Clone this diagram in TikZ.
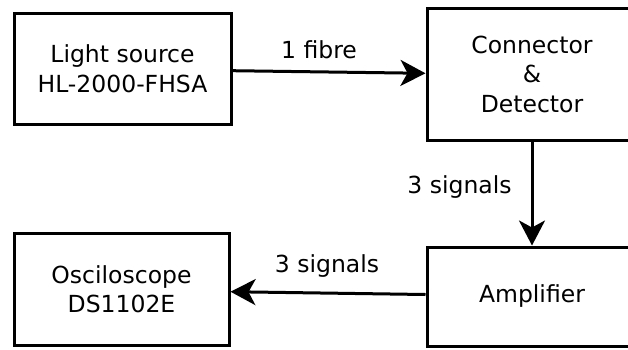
\documentclass[tikz,border=0pt]{standalone}
\usepackage{fontspec}
\setmainfont{DejaVu Sans}
\usetikzlibrary{arrows.meta}
\begin{document}
\begin{tikzpicture}[x=1pt,y=-1pt,
  box/.style={draw=black, line width=3pt, rectangle, align=center, inner sep=0pt,
    font=\fontsize{23.5}{29.5}\selectfont},
  lbl/.style={font=\fontsize{23.5}{29.5}\selectfont, inner sep=0pt},
  arr/.style={line width=3pt, -{Stealth[length=25pt,width=26pt,inset=7pt]}}]
\useasboundingbox (0,0) rectangle (628,349);
\clip (0,0) rectangle (628,349);
\fill[white] (0,0) rectangle (628,349);
\node[box, minimum width=217pt, minimum height=111pt] (ls) at (122.5,68.5) {Light source\\HL-2000-FHSA};
\node[box, minimum width=210pt, minimum height=132pt] (cd) at (532,74) {Connector\\\&\\Detector};
\node[box, minimum width=215pt, minimum height=112pt] (osc) at (121.5,289) {Osciloscope\\DS1102E};
\node[box, minimum width=210pt, minimum height=99pt] (amp) at (532,296.5) {Amplifier};
\draw[arr] ([yshift=-2.2pt]ls.east) -- ([yshift=0.7pt]cd.west);
\draw[arr] (cd.south) -- (amp.north);
\draw[arr] ([yshift=2pt]amp.west) -- ([yshift=-2.7pt]osc.east);
\node[lbl] (l1) at (319,50) {1 fibre};
\node[lbl] (l2) at (459.5,187) {3 signals};
\node[lbl] (l3) at (327,266) {3 signals};
\end{tikzpicture}
\end{document}
